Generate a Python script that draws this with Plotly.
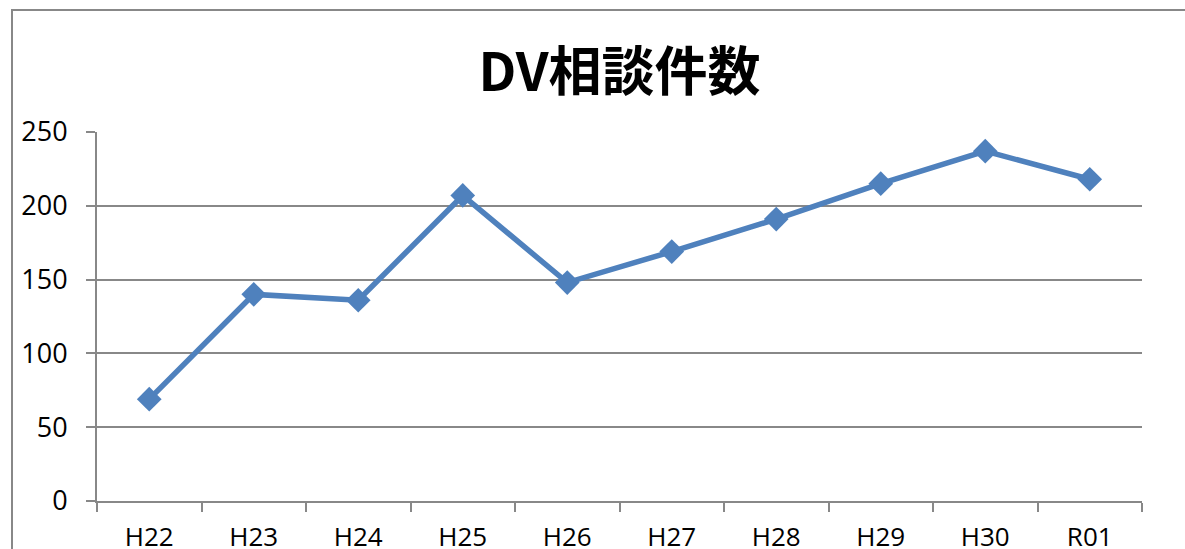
import plotly.graph_objects as go

categories = ["H22", "H23", "H24", "H25", "H26", "H27", "H28", "H29", "H30", "R01"]
values = [69, 140, 136, 207, 148, 169, 191, 215, 237, 218]
y_ticks = [0, 50, 100, 150, 200, 250]

W, H = 1185, 549
L, R, T, B = 97, 1142, 132, 501

fig = go.Figure()
fig.add_trace(go.Scatter(
    x=categories, y=values, mode="lines+markers",
    line=dict(color="#4F81BD", width=5.5),
    marker=dict(symbol="diamond", size=19, color="#4F81BD"),
    showlegend=False,
))

fw = R - L
fh = B - T
fig.add_shape(type="rect", xref="paper", yref="paper",
              x0=(12 - L) / fw, x1=(2000 - L) / fw,
              y0=(B - 1000) / fh, y1=(B - 10) / fh,
              line=dict(color="#888888", width=2), layer="below")

fig.update_layout(
    width=W, height=H,
    margin=dict(l=L, r=W - R, t=T, b=H - B, pad=0, autoexpand=False),
    paper_bgcolor="white", plot_bgcolor="white",
    font=dict(family="Open Sans, Noto Sans CJK JP", color="black", size=26),
    title=dict(text="<b>DV相談件数</b>", x=0.5, xref="paper", xanchor="center",
               y=(H - 72) / H, yanchor="middle",
               font=dict(family="Noto Sans CJK JP", size=53, color="black")),
    xaxis=dict(type="category", range=[-0.5, 9.5], tickson="boundaries",
               ticks="outside", ticklen=9,
               tickwidth=2, tickcolor="#888888", showgrid=False, automargin=False,
               showline=True, linecolor="#888888", linewidth=2,
               ticklabelstandoff=12, tickfont=dict(size=26), fixedrange=True),
    yaxis=dict(range=[0, 250], tickvals=y_ticks, ticks="outside", ticklen=9,
               tickwidth=2, tickcolor="#888888", showgrid=True, automargin=False,
               gridcolor="#888888", gridwidth=2, zeroline=False,
               showline=True, linecolor="#888888", linewidth=2,
               ticklabelstandoff=13, tickfont=dict(size=27), fixedrange=True),
)

fig.write_html("out.html", config={"displayModeBar": False},
               post_script="document.body.style.margin='0';document.body.style.overflow='hidden';")
